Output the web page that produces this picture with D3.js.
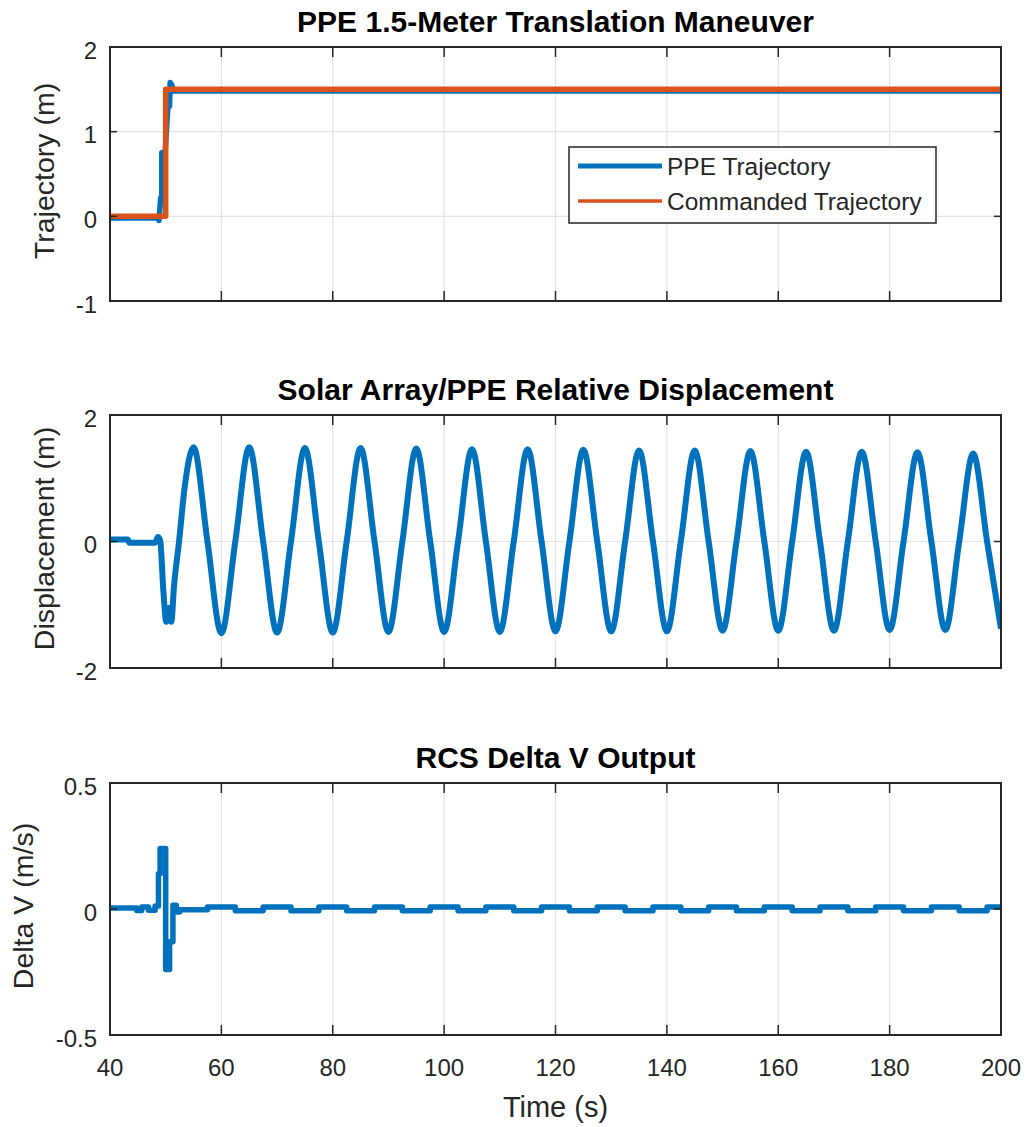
<!DOCTYPE html>
<html>
<head>
<meta charset="utf-8">
<script src="https://cdn.jsdelivr.net/npm/d3@7"></script>
<style>
  body { margin: 0; background: #fff; }
  svg { display: block; font-family: "Liberation Sans", Arial, sans-serif; }
</style>
</head>
<body>
<div id="chart"></div>
<script>
// --- Data ---
const xTicks = [40, 60, 80, 100, 120, 140, 160, 180, 200];

// Panel 1: trajectory
const cmdT = [40, 50.0, 50.0, 200];
const cmdV = [0, 0, 1.5, 1.5];
const ppeT = [40, 48.8, 48.8, 49.1, 49.3, 49.3, 49.9, 50.4, 50.7, 50.8, 51.1, 51.4, 200];
const ppeV = [-0.02, -0.02, -0.05, 0.22, 0.22, 0.75, 0.75, 1.3, 1.3, 1.58, 1.55, 1.48, 1.48];

// Panel 2: solar array displacement
const dispT = [40, 43.2, 43.5, 48.1, 48.6, 49.0, 49.6, 50.1, 50.6, 51.0, 51.5, 52.4, 53.4,
  55, 57.5, 60, 62.5, 65, 67.5, 70, 72.5, 75, 77.5, 80, 82.5, 85, 87.5, 90, 92.5,
  95, 97.5, 100, 102.5, 105, 107.5, 110, 112.5, 115, 117.5, 120, 122.5, 125, 127.5,
  130, 132.5, 135, 137.5, 140, 142.5, 145, 147.5, 150, 152.5, 155, 157.5, 160, 162.5,
  165, 167.5, 170, 172.5, 175, 177.5, 180, 182.5, 185, 187.5, 190, 192.5, 195, 197.5, 200];
const dispV = [0.03, 0.03, -0.02, -0.02, 0.07, 0.02, -0.8, -1.27, -1.05, -1.27, -0.7, 0, 0.85,
  1.49, 0, -1.45, 0, 1.49, 0, -1.44, 0, 1.48, 0, -1.44, 0, 1.48, 0, -1.43, 0,
  1.47, 0, -1.43, 0, 1.46, 0, -1.43, 0, 1.46, 0, -1.42, 0, 1.45, 0,
  -1.42, 0, 1.44, 0, -1.42, 0, 1.44, 0, -1.41, 0, 1.43, 0, -1.41, 0,
  1.42, 0, -1.41, 0, 1.42, 0, -1.40, 0, 1.41, 0, -1.40, 0, 1.39, 0, -1.38];

// Panel 3: RCS delta V
const dvT = [40, 44.8, 45.7, 46.9, 48.1, 48.7, 49.0, 50.0, 50.7, 51.3, 51.9, 52.5,
  57.5, 62.5, 67.5, 72.5, 77.5, 82.5, 87.5, 92.5, 97.5, 102.5, 107.5, 112.5, 117.5,
  122.5, 127.5, 132.5, 137.5, 142.5, 147.5, 152.5, 157.5, 162.5, 167.5, 172.5,
  177.5, 182.5, 187.5, 192.5, 197.5, 200];
const dvV = [0.004, -0.006, 0.008, -0.005, 0.012, 0.14, 0.24, -0.24, -0.13, 0.015, -0.012, -0.003,
  0.008, -0.007, 0.008, -0.007, 0.008, -0.007, 0.008, -0.007, 0.008, -0.007, 0.008, -0.007, 0.008,
  -0.007, 0.008, -0.007, 0.008, -0.007, 0.008, -0.007, 0.008, -0.007, 0.008, -0.007,
  0.008, -0.007, 0.008, -0.007, 0.008, 0.008];

const blue = "#0072BD", orange = "#D95319", axisColor = "#262626", gridColor = "#e3e3e3";

// --- Layout ---
const W = 1026, H = 1127;
const left = 110, right = 1001;

const svg = d3.select("#chart").append("svg")
  .attr("width", W)
  .attr("height", H);
svg.append("rect").attr("width", W).attr("height", H).attr("fill", "#fff");

const x = d3.scaleLinear().domain([40, 200]).range([left, right]);

const zip = (t, v) => t.map((d, i) => [d, v[i]]);

function panel(cfg) {
  const y = d3.scaleLinear().domain(cfg.yDomain).range([cfg.bottom, cfg.top]);
  const g = svg.append("g");
  const clipId = "clip" + cfg.id;

  g.append("clipPath").attr("id", clipId)
    .append("rect")
    .attr("x", left).attr("y", cfg.top)
    .attr("width", right - left).attr("height", cfg.bottom - cfg.top);

  // grid
  g.append("g").selectAll("line")
    .data(xTicks.slice(1, -1))
    .join("line")
    .attr("x1", d => x(d)).attr("x2", d => x(d))
    .attr("y1", cfg.top).attr("y2", cfg.bottom)
    .attr("stroke", gridColor).attr("stroke-width", 1.2);
  g.append("g").selectAll("line")
    .data(cfg.yTicks.slice(1, -1))
    .join("line")
    .attr("x1", left).attr("x2", right)
    .attr("y1", d => y(d)).attr("y2", d => y(d))
    .attr("stroke", gridColor).attr("stroke-width", 1.2);

  // series
  const plot = g.append("g").attr("clip-path", `url(#${clipId})`);
  cfg.series.forEach(s => {
    plot.append("path")
      .datum(s.data)
      .attr("fill", "none")
      .attr("stroke", s.color)
      .attr("stroke-width", s.width || 5.5)
      .attr("stroke-linejoin", "round")
      .attr("d", d3.line().x(d => x(d[0])).y(d => y(d[1])).curve(s.curve));
  });

  // ticks (inside, on all four sides)
  const ticks = g.append("g").attr("stroke", axisColor).attr("stroke-width", 1.5);
  xTicks.slice(1, -1).forEach(t => {
    ticks.append("line").attr("x1", x(t)).attr("x2", x(t)).attr("y1", cfg.bottom).attr("y2", cfg.bottom - 10);
    ticks.append("line").attr("x1", x(t)).attr("x2", x(t)).attr("y1", cfg.top).attr("y2", cfg.top + 10);
  });
  cfg.yTicks.slice(1, -1).forEach(t => {
    ticks.append("line").attr("x1", left).attr("x2", left + 7).attr("y1", y(t)).attr("y2", y(t));
    ticks.append("line").attr("x1", right).attr("x2", right - 7).attr("y1", y(t)).attr("y2", y(t));
  });

  // box
  g.append("rect")
    .attr("x", left).attr("y", cfg.top)
    .attr("width", right - left).attr("height", cfg.bottom - cfg.top)
    .attr("fill", "none").attr("stroke", axisColor).attr("stroke-width", 2);

  // y tick labels
  g.append("g").selectAll("text")
    .data(cfg.yTicks)
    .join("text")
    .attr("x", 97)
    .attr("y", d => y(d) + 11.5)
    .attr("text-anchor", "end")
    .attr("font-size", "24px")
    .attr("fill", axisColor)
    .text(d => String(d));

  // title
  g.append("text")
    .attr("x", (left + right) / 2)
    .attr("y", cfg.top - 15.5)
    .attr("text-anchor", "middle")
    .attr("font-size", "30px")
    .attr("font-weight", "bold")
    .attr("fill", "#000")
    .text(cfg.title);

  // y label
  g.append("text")
    .attr("transform", `translate(${cfg.labelX},${(cfg.top + cfg.bottom) / 2 - 3}) rotate(-90)`)
    .attr("text-anchor", "middle")
    .attr("font-size", "28.5px")
    .attr("fill", axisColor)
    .text(cfg.ylabel);

  return { g, y };
}

// --- Panels ---
const p1 = panel({
  id: 1, top: 47, bottom: 301, yDomain: [-1, 2], yTicks: [-1, 0, 1, 2],
  title: "PPE 1.5-Meter Translation Maneuver", ylabel: "Trajectory (m)", labelX: 54,
  series: [
    { data: zip(ppeT, ppeV), color: blue, curve: d3.curveLinear },
    { data: zip(cmdT, cmdV), color: orange, curve: d3.curveLinear }
  ]
});

panel({
  id: 2, top: 415, bottom: 668, yDomain: [-2, 2], yTicks: [-2, 0, 2],
  title: "Solar Array/PPE Relative Displacement", ylabel: "Displacement (m)", labelX: 54,
  series: [{ data: zip(dispT, dispV), color: blue, curve: d3.curveMonotoneX, width: 6 }]
});

panel({
  id: 3, top: 783, bottom: 1035, yDomain: [-0.5, 0.5], yTicks: [-0.5, 0, 0.5],
  title: "RCS Delta V Output", ylabel: "Delta V (m/s)", labelX: 33,
  series: [{ data: zip(dvT, dvV), color: blue, curve: d3.curveStepAfter }]
});

// --- X axis labels (bottom panel only) ---
svg.append("g").selectAll("text")
  .data(xTicks)
  .join("text")
  .attr("x", d => x(d))
  .attr("y", 1076)
  .attr("text-anchor", "middle")
  .attr("font-size", "24px")
  .attr("fill", axisColor)
  .text(d => d);

svg.append("text")
  .attr("x", (left + right) / 2)
  .attr("y", 1117)
  .attr("text-anchor", "middle")
  .attr("font-size", "29px")
  .attr("fill", axisColor)
  .text("Time (s)");

// --- Legend ---
const legendItems = [
  { label: "PPE Trajectory", color: blue, width: 5 },
  { label: "Commanded Trajectory", color: orange, width: 3.5 }
];
const legend = p1.g.append("g");
legend.append("rect")
  .attr("x", 569).attr("y", 147)
  .attr("width", 367).attr("height", 76)
  .attr("fill", "#fff").attr("stroke", axisColor).attr("stroke-width", 1.5);

legendItems.forEach((item, i) => {
  const cy = 166 + i * 35;
  legend.append("line")
    .attr("x1", 578).attr("x2", 662)
    .attr("y1", cy).attr("y2", cy)
    .attr("stroke", item.color).attr("stroke-width", item.width);
  legend.append("text")
    .attr("x", 667)
    .attr("y", cy + 9)
    .attr("font-size", "24.5px")
    .attr("fill", axisColor)
    .text(item.label);
});
</script>
</body>
</html>
